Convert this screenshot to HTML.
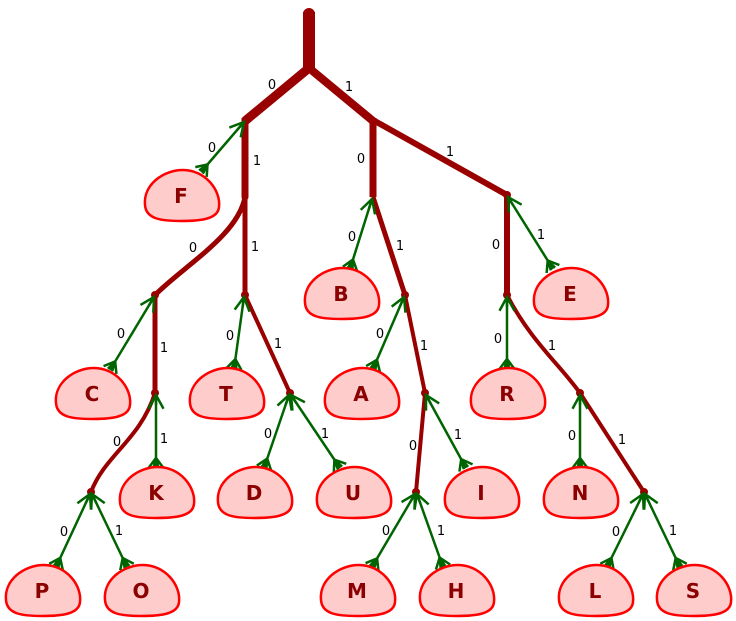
<!DOCTYPE html>
<html><head><meta charset="utf-8"><style>
html,body{margin:0;padding:0;background:#fff;}
svg{display:block;}
.e{font-family:"DejaVu Sans","Liberation Sans",sans-serif;font-size:13px;fill:#000;text-anchor:middle;}
.n{font-family:"DejaVu Sans","Liberation Sans",sans-serif;font-size:20px;font-weight:bold;fill:#8b0000;text-anchor:middle;}
.leaf{fill:#ffcccc;stroke:#ff0000;stroke-width:2.5;}
.g{stroke:#006400;stroke-width:2.5;fill:none;marker-end:url(#ah);marker-start:url(#as);}
.r{stroke:#990000;fill:none;stroke-linecap:butt;}
</style></head><body>
<svg width="736" height="621" viewBox="0 0 736 621" xmlns="http://www.w3.org/2000/svg">
<defs>
<marker id="ah" markerUnits="userSpaceOnUse" markerWidth="20" markerHeight="20" refX="0" refY="0" viewBox="-12 -8 14 16" orient="auto">
<path d="M-11,-6 L0,0 L-11,6 M-8,0 L0,0" stroke="#006400" stroke-width="2" fill="none"/>
</marker>
<marker id="as" markerUnits="userSpaceOnUse" markerWidth="20" markerHeight="20" refX="0" refY="0" viewBox="-4 -8 14 16" orient="auto">
<path d="M0,-6 L8,0 L0,6 M0,-2 L8,0 L0,2" stroke="#006400" stroke-width="2" fill="none"/>
</marker>
<path id="lf" class="leaf" d="M-36,10 C-38,-10 -18,-25 2,-25 C24,-25 40,-5 38,12 C37,24 20,26 0,26 C-20,26 -35,24 -36,10 Z"/>
</defs>
<line class="r" x1="309" y1="12" x2="309" y2="68" stroke-width="12"/>
<circle cx="309" cy="14" r="6" fill="#990000"/>
<line class="r" x1="309" y1="68" x2="245" y2="121" stroke-width="9"/>
<line class="r" x1="309" y1="68" x2="373" y2="121" stroke-width="8"/>
<line class="r" x1="245" y1="118" x2="245" y2="197" stroke-width="7"/>
<line class="r" x1="373" y1="118" x2="373" y2="197" stroke-width="7"/>
<line class="r" x1="373" y1="120" x2="507" y2="195" stroke-width="6"/>
<path class="r" d="M245,197 C238,235 185,265 155,295" stroke-width="5"/>
<line class="r" x1="245" y1="197" x2="245" y2="295" stroke-width="5"/>
<line class="r" x1="155" y1="295" x2="155" y2="393" stroke-width="5"/>
<path class="r" d="M155,393 C140,440 105,455 91,492" stroke-width="4"/>
<line class="r" x1="245" y1="295" x2="290" y2="393" stroke-width="4"/>
<line class="r" x1="373" y1="197" x2="405" y2="295" stroke-width="5"/>
<line class="r" x1="405" y1="295" x2="425" y2="393" stroke-width="4"/>
<line class="r" x1="425" y1="393" x2="416" y2="492" stroke-width="4"/>
<line class="r" x1="507" y1="195" x2="507" y2="295" stroke-width="6"/>
<path class="r" d="M507,295 C530,340 560,365 580,393" stroke-width="4"/>
<line class="r" x1="580" y1="393" x2="644" y2="492" stroke-width="4"/>
<g fill="#990000">
<circle cx="245" cy="197" r="3.5"/><circle cx="155" cy="295" r="4"/><circle cx="155" cy="393" r="4"/>
<circle cx="91" cy="492" r="4"/><circle cx="245" cy="295" r="4"/><circle cx="290" cy="393" r="4"/>
<circle cx="405" cy="295" r="4"/><circle cx="425" cy="393" r="4"/><circle cx="416" cy="492" r="4"/>
<circle cx="507" cy="195" r="4"/><circle cx="507" cy="295" r="4"/><circle cx="580" cy="393" r="4"/><circle cx="644" cy="492" r="4"/>
</g>
<line class="g" x1="201" y1="172" x2="244" y2="122"/>
<line class="g" x1="110" y1="370" x2="154" y2="297"/>
<line class="g" x1="156" y1="468" x2="156" y2="395"/>
<line class="g" x1="56" y1="567" x2="90" y2="494"/>
<line class="g" x1="127" y1="567" x2="92" y2="494"/>
<line class="g" x1="234" y1="369" x2="244" y2="297"/>
<line class="g" x1="264" y1="468" x2="289" y2="395"/>
<line class="g" x1="340" y1="468" x2="291" y2="395"/>
<line class="g" x1="350" y1="269" x2="372" y2="199"/>
<line class="g" x1="373" y1="369" x2="404" y2="297"/>
<line class="g" x1="466" y1="468" x2="426" y2="395"/>
<line class="g" x1="372" y1="567" x2="415" y2="494"/>
<line class="g" x1="443" y1="567" x2="417" y2="494"/>
<line class="g" x1="507" y1="369" x2="507" y2="297"/>
<line class="g" x1="553" y1="269" x2="508" y2="197"/>
<line class="g" x1="580" y1="468" x2="580" y2="395"/>
<line class="g" x1="607" y1="567" x2="643" y2="494"/>
<line class="g" x1="680" y1="567" x2="645" y2="494"/>
<g transform="translate(181,195)"><use href="#lf"/><text class="n" y="8">F</text></g>
<g transform="translate(92,393)"><use href="#lf"/><text class="n" y="8">C</text></g>
<g transform="translate(226,393)"><use href="#lf"/><text class="n" y="8">T</text></g>
<g transform="translate(341,293)"><use href="#lf"/><text class="n" y="8">B</text></g>
<g transform="translate(361,393)"><use href="#lf"/><text class="n" y="8">A</text></g>
<g transform="translate(507,393)"><use href="#lf"/><text class="n" y="8">R</text></g>
<g transform="translate(570,293)"><use href="#lf"/><text class="n" y="8">E</text></g>
<g transform="translate(156,492)"><use href="#lf"/><text class="n" y="8">K</text></g>
<g transform="translate(254,492)"><use href="#lf"/><text class="n" y="8">D</text></g>
<g transform="translate(353,492)"><use href="#lf"/><text class="n" y="8">U</text></g>
<g transform="translate(481,492)"><use href="#lf"/><text class="n" y="8">I</text></g>
<g transform="translate(580,492)"><use href="#lf"/><text class="n" y="8">N</text></g>
<g transform="translate(42,590)"><use href="#lf"/><text class="n" y="8">P</text></g>
<g transform="translate(141,590)"><use href="#lf"/><text class="n" y="8">O</text></g>
<g transform="translate(357,590)"><use href="#lf"/><text class="n" y="8">M</text></g>
<g transform="translate(456,590)"><use href="#lf"/><text class="n" y="8">H</text></g>
<g transform="translate(595,590)"><use href="#lf"/><text class="n" y="8">L</text></g>
<g transform="translate(693,590)"><use href="#lf"/><text class="n" y="8">S</text></g>
<g class="e">
<text x="272" y="89">0</text><text x="349" y="91">1</text>
<text x="212" y="152">0</text><text x="257" y="165">1</text>
<text x="361" y="163">0</text><text x="450" y="156">1</text>
<text x="193" y="252">0</text><text x="255" y="251">1</text>
<text x="352" y="241">0</text><text x="400" y="250">1</text>
<text x="496" y="249">0</text><text x="541" y="239">1</text>
<text x="121" y="338">0</text><text x="164" y="352">1</text>
<text x="230" y="340">0</text><text x="278" y="348">1</text>
<text x="380" y="338">0</text><text x="424" y="350">1</text>
<text x="498" y="343">0</text><text x="552" y="350">1</text>
<text x="117" y="446">0</text><text x="164" y="443">1</text>
<text x="268" y="438">0</text><text x="325" y="438">1</text>
<text x="413" y="450">0</text><text x="458" y="439">1</text>
<text x="572" y="440">0</text><text x="622" y="444">1</text>
<text x="64" y="536">0</text><text x="119" y="535">1</text>
<text x="386" y="535">0</text><text x="441" y="535">1</text>
<text x="616" y="536">0</text><text x="673" y="535">1</text>
</g>
</svg>
</body></html>
